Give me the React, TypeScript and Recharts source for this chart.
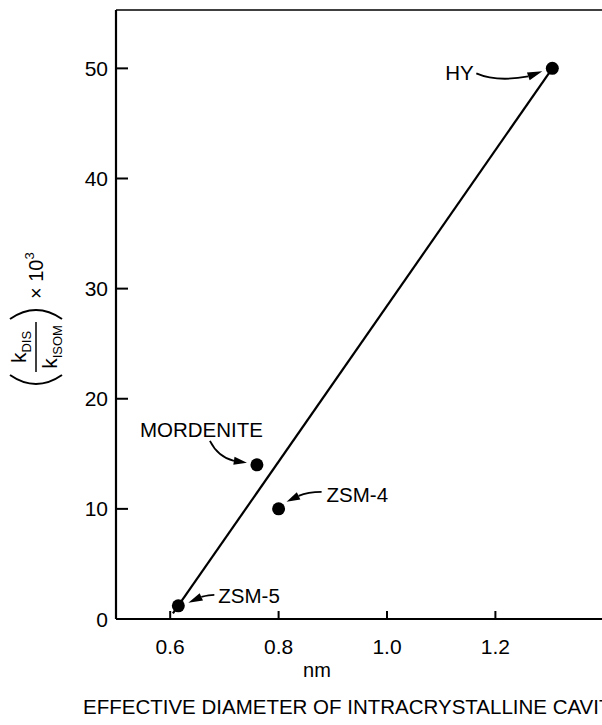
import React from 'react';
import { ScatterChart, Scatter, XAxis, YAxis, ReferenceLine } from 'recharts';

// ---- data ----
const zeoliteNames = ['HY', 'MORDENITE', 'ZSM-4', 'ZSM-5'];
const diameters = [1.305, 0.76, 0.8, 0.615];
const ratios = [50, 14, 10, 1.2];
const fitX = [0.605, 1.305];
const fitY = [0.5, 50];
const xTicks = [0.6, 0.8, 1.0, 1.2];
const yTicks = [0, 10, 20, 30, 40, 50];
const xDomain = [0.5, 1.5];
const yDomain = [0, 55.3];
const xTitle = 'nm';
const bottomTitle = 'EFFECTIVE DIAMETER OF INTRACRYSTALLINE CAVITY';

const points = zeoliteNames.map((name, i) => ({ name, x: diameters[i], y: ratios[i] }));
const fitSegment = fitX.map((x, i) => ({ x, y: fitY[i] }));

const FONT = '"Liberation Sans", Arial, Helvetica, sans-serif';
const INK = '#000';

// annotation layout relative to each dot (pixels)
type Ann = { tx: number; ty: number; curve: string; base: [number, number]; tip: [number, number] };
const annLayout: Record<string, Ann> = {
  HY: { tx: -107, ty: 12, curve: 'M -76 5 C -60 12, -40 11, -24 8', base: [-24, 8], tip: [-10, 3] },
  MORDENITE: { tx: -117, ty: -28, curve: 'M -47 -24 C -42 -14, -35 -7, -23 -4', base: [-23, -4], tip: [-10, -2] },
  'ZSM-4': { tx: 48, ty: -7, curve: 'M 43 -17 C 35 -17, 27 -16, 20 -13', base: [20, -13], tip: [8, -7] },
  'ZSM-5': { tx: 40, ty: -3, curve: 'M 36 -11 C 32 -11, 27 -10, 23 -9', base: [23, -9], tip: [10, -3] },
};

function arrowHead(base: [number, number], tip: [number, number]) {
  const dx = tip[0] - base[0];
  const dy = tip[1] - base[1];
  const len = Math.sqrt(dx * dx + dy * dy) || 1;
  const nx = -dy / len;
  const ny = dx / len;
  const w = 4;
  return `${tip[0]},${tip[1]} ${base[0] + nx * w},${base[1] + ny * w} ${base[0] - nx * w},${base[1] - ny * w}`;
}

const PointMark = (props: any) => {
  const { cx, cy, payload } = props;
  if (cx == null || cy == null) return null;
  const a = annLayout[payload.name];
  return (
    <g>
      <circle cx={cx} cy={cy} r={6.5} fill={INK} />
      {a && (
        <g transform={`translate(${cx},${cy})`}>
          <path d={a.curve} fill="none" stroke={INK} strokeWidth={1.8} />
          <polygon points={arrowHead(a.base, a.tip)} fill={INK} />
          <text x={a.tx} y={a.ty} fontSize={20.5} fontFamily={FONT} fill={INK}>
            {payload.name}
          </text>
        </g>
      )}
    </g>
  );
};

const YTick = (props: any) => {
  const { x, y, payload } = props;
  return (
    <g>
      <line x1={x + 8} x2={x + 20} y1={y} y2={y} stroke={INK} strokeWidth={2} />
      <text x={x} y={y + 7.5} textAnchor="end" fontSize={21} fontFamily={FONT} fill={INK}>
        {payload.value}
      </text>
    </g>
  );
};

const XTick = (props: any) => {
  const { x, y, payload } = props;
  return (
    <g>
      <line x1={x} x2={x} y1={y} y2={y - 8} stroke={INK} strokeWidth={2} />
      <text x={x} y={y + 35} textAnchor="middle" fontSize={21} fontFamily={FONT} fill={INK}>
        {Number(payload.value).toFixed(1)}
      </text>
    </g>
  );
};

const YLabel = () => (
  <g transform="translate(36,314) rotate(-90)" fontFamily={FONT} fill={INK}>
    <path d="M -61 -26 Q -79 0 -61 26" fill="none" stroke={INK} strokeWidth={2} />
    <line x1={-58} x2={-8} y1={0} y2={0} stroke={INK} strokeWidth={1.5} />
    <text x={-33} y={-10} textAnchor="middle" fontSize={21}>
      k<tspan fontSize={13} dy={5}>DIS</tspan>
    </text>
    <text x={-33} y={21} textAnchor="middle" fontSize={21}>
      k<tspan fontSize={13} dy={5}>ISOM</tspan>
    </text>
    <path d="M -5 -26 Q 13 0 -5 26" fill="none" stroke={INK} strokeWidth={2} />
    <text x={15} y={7} fontSize={20}>
      × 10<tspan fontSize={13} dy={-9}>3</tspan>
    </text>
  </g>
);

export default function App() {
  return (
    <div style={{ position: 'fixed', left: 0, top: 0, width: 602, height: 725, overflow: 'hidden', background: '#fff' }}>
      <ScatterChart width={660} height={725} margin={{ top: 10, right: 2, bottom: 76, left: 0 }}>
        <XAxis
          type="number"
          dataKey="x"
          domain={xDomain}
          ticks={xTicks}
          tick={<XTick />}
          tickLine={false}
          tickSize={0}
          tickMargin={0}
          height={30}
          axisLine={{ stroke: INK, strokeWidth: 2.2 }}
          allowDataOverflow
        />
        <YAxis
          type="number"
          dataKey="y"
          domain={yDomain}
          ticks={yTicks}
          tick={<YTick />}
          tickLine={false}
          tickSize={0}
          tickMargin={8}
          width={116}
          axisLine={{ stroke: INK, strokeWidth: 2.2 }}
          allowDataOverflow
        />
        <ReferenceLine y={yDomain[1]} stroke={INK} strokeWidth={1.6} />
        <ReferenceLine segment={fitSegment} stroke={INK} strokeWidth={2.2} />
        <Scatter data={points} shape={<PointMark />} isAnimationActive={false} />
      </ScatterChart>
      <svg width={602} height={725} style={{ position: 'absolute', left: 0, top: 0, pointerEvents: 'none' }}>
        <YLabel />
        <text x={317} y={677} textAnchor="middle" fontSize={20} fontFamily={FONT} fill={INK}>
          {xTitle}
        </text>
        <text x={83} y={714} fontSize={20.5} fontFamily={FONT} fill={INK}>
          {bottomTitle}
        </text>
      </svg>
    </div>
  );
}
